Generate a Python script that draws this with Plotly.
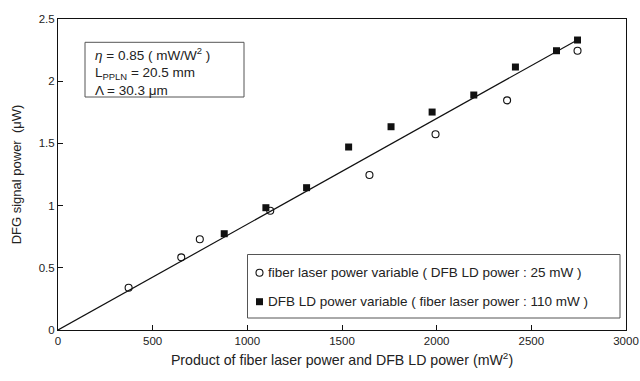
import plotly.graph_objects as go

# Data
fiber_x = [373, 651, 749, 1121, 1645, 1994, 2372, 2744]
fiber_y = [0.34, 0.584, 0.729, 0.959, 1.246, 1.573, 1.846, 2.245]

dfb_x = [878, 1098, 1313, 1535, 1759, 1976, 2196, 2416, 2633, 2744]
dfb_y = [0.774, 0.983, 1.144, 1.471, 1.634, 1.752, 1.889, 2.114, 2.245, 2.331]

fit_x = [0, 2750]
fit_y = [0, 2.3375]

x_ticks = [0, 500, 1000, 1500, 2000, 2500, 3000]
y_ticks = [0, 0.5, 1, 1.5, 2, 2.5]

legend_labels = ["fiber laser power variable ( DFB LD power : 25 mW )",
                 "DFB LD power variable ( fiber laser power : 110 mW )"]
param_lines = ["<i>η</i> = 0.85 ( mW/W<sup>2</sup> )",
               "L<sub>PPLN</sub> = 20.5 mm",
               "Λ = 30.3 μm"]

FONT = "Liberation Sans, Arial, sans-serif"
TXT = "#222222"
INK = "#111111"

# plot-area pixel geometry
L, R, T, B = 58, 626, 19, 330
W, H = R - L, B - T


def px(x):
    return (x - L) / W


def py(y):
    return (B - y) / H


fig = go.Figure()
fig.add_trace(go.Scatter(x=fit_x, y=fit_y, mode="lines",
                         line=dict(color=INK, width=1.2),
                         showlegend=False, hoverinfo="skip"))
circle_marker = dict(symbol="circle-open", size=7, color=INK, line=dict(width=1.1, color=INK))
square_marker = dict(symbol="square", size=7, color=INK, line=dict(width=0))
fig.add_trace(go.Scatter(x=fiber_x, y=fiber_y, mode="markers", name=legend_labels[0],
                         marker=circle_marker, showlegend=False))
fig.add_trace(go.Scatter(x=dfb_x, y=dfb_y, mode="markers", name=legend_labels[1],
                         marker=square_marker, showlegend=False))

# legend keys (drawn on an overlay axis spanning the plot area in 0..1)
leg_rows = [272.7, 301.7]
fig.add_trace(go.Scatter(x=[px(259.5)], y=[py(leg_rows[0])], mode="markers",
                         marker=circle_marker, xaxis="x2", yaxis="y2",
                         showlegend=False, hoverinfo="skip"))
fig.add_trace(go.Scatter(x=[px(259.5)], y=[py(leg_rows[1])], mode="markers",
                         marker=square_marker, xaxis="x2", yaxis="y2",
                         showlegend=False, hoverinfo="skip"))

fig.update_layout(
    width=640, height=381,
    margin=dict(l=L, r=640 - R, t=T, b=381 - B),
    paper_bgcolor="white", plot_bgcolor="white",
    font=dict(family=FONT, size=12, color=TXT),
    showlegend=False,
    xaxis2=dict(overlaying="x", range=[0, 1], visible=False, fixedrange=True),
    yaxis2=dict(overlaying="y", range=[0, 1], visible=False, fixedrange=True),
    xaxis=dict(range=[0, 3000], tickvals=x_ticks, ticks="inside", ticklen=5,
               tickcolor=INK, showline=True, linecolor=INK, linewidth=1,
               mirror=True, showgrid=False, zeroline=False, automargin=False,
               tickfont=dict(size=11.5),
               title=dict(text="Product of fiber laser power and DFB LD power (mW<sup>2</sup>)",
                          font=dict(size=14.2), standoff=9)),
    yaxis=dict(range=[0, 2.5], tickvals=y_ticks, ticks="inside", ticklen=5,
               tickcolor=INK, showline=True, linecolor=INK, linewidth=1,
               mirror=True, showgrid=False, zeroline=False, automargin=False,
               tickfont=dict(size=11.5),
               title=dict(text="DFG signal power  (μW)", font=dict(size=13), standoff=14)),
)

# Parameter box
fig.add_shape(type="rect", xref="paper", yref="paper",
              x0=px(85), x1=px(244), y0=py(97), y1=py(42.3),
              line=dict(color="#555555", width=1), fillcolor="white", layer="below")
fig.add_annotation(xref="paper", yref="paper", x=px(93), y=py(71.8),
                   text="<br>".join(param_lines), align="left",
                   showarrow=False, xanchor="left", yanchor="middle",
                   font=dict(size=13.5, color=TXT))

# Legend box
fig.add_shape(type="rect", xref="paper", yref="paper",
              x0=px(247.5), x1=px(620), y0=py(318), y1=py(254.5),
              line=dict(color="#555555", width=1), fillcolor="white", layer="below")
for t, yy in zip(legend_labels, leg_rows):
    fig.add_annotation(xref="paper", yref="paper", x=px(265.5), y=py(yy), text=t,
                       showarrow=False, xanchor="left", yanchor="middle",
                       font=dict(size=13.5, color=TXT))

fig.write_html("out.html")
